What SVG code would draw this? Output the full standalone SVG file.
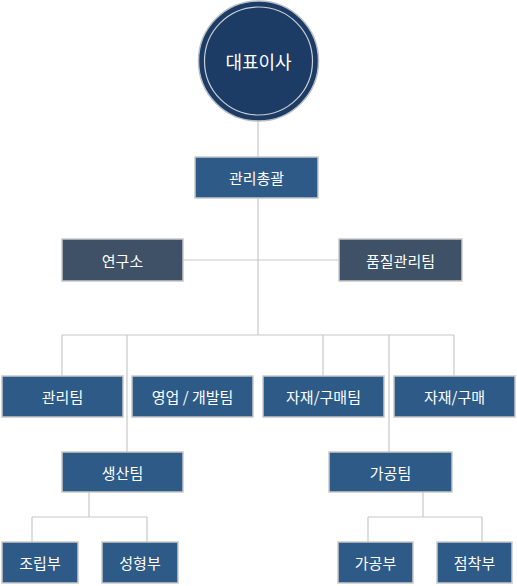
<svg xmlns="http://www.w3.org/2000/svg" width="517" height="586" viewBox="0 0 517 586">
<style>
.box{fill:#2e5a87;stroke:#c9c9c9;stroke-width:1.5}
.dark{fill:#3e5166;stroke:#c9c9c9;stroke-width:1.5}
.t{fill:#ffffff;font-family:"Noto Sans CJK KR","Noto Sans",sans-serif;font-size:15px;text-anchor:middle;dominant-baseline:central}
.c{fill:none;stroke:#c8c8c8;stroke-width:1.2}
</style>
<rect width="517" height="586" fill="#ffffff"/>
<g id="connectors" class="c">
<path d="M258 120V157M258 198V335M183 260H339M62 335H454M62 335V376M127 335V452M323 335V376M389 335V452M454 335V376"/>
<path d="M89 492V517M32 517H147M32 517V542M147 517V542"/>
<path d="M423 492V517M368 517H482M368 517V542M482 517V542"/>
</g>
<g id="ceo">
<circle cx="258.5" cy="61" r="60" fill="#1c3c65" stroke="#b9bec6" stroke-width="1.5"/>
<circle cx="258.5" cy="61" r="54" fill="none" stroke="#c9ced6" stroke-width="1.2"/>
<text class="t" x="258.5" y="61" style="font-size:18px">대표이사</text>
</g>
<g id="general"><rect class="box" x="195" y="157" width="123" height="41"/><text class="t" x="256.5" y="177.5">관리총괄</text></g>
<g id="lab"><rect class="dark" x="62" y="239" width="121" height="42"/><text class="t" x="122.5" y="260">연구소</text></g>
<g id="qa"><rect class="dark" x="339" y="239" width="123" height="42"/><text class="t" x="400.5" y="260">품질관리팀</text></g>
<g id="admin"><rect class="box" x="2" y="376" width="121" height="41"/><text class="t" x="62.5" y="396.5">관리팀</text></g>
<g id="sales"><rect class="box" x="132" y="376" width="121" height="41"/><text class="t" x="192.5" y="396.5">영업 / 개발팀</text></g>
<g id="purchase-team"><rect class="box" x="263" y="376" width="121" height="41"/><text class="t" x="323.5" y="396.5">자재/구매팀</text></g>
<g id="purchase"><rect class="box" x="394" y="376" width="121" height="41"/><text class="t" x="454.5" y="396.5">자재/구매</text></g>
<g id="production"><rect class="box" x="62" y="452" width="121" height="40"/><text class="t" x="122.5" y="472">생산팀</text></g>
<g id="processing"><rect class="box" x="329" y="452" width="123" height="40"/><text class="t" x="390.5" y="472">가공팀</text></g>
<g id="assembly"><rect class="box" x="2" y="542" width="76" height="41"/><text class="t" x="40" y="562.5">조립부</text></g>
<g id="molding"><rect class="box" x="102" y="542" width="76" height="41"/><text class="t" x="140" y="562.5">성형부</text></g>
<g id="machining"><rect class="box" x="338" y="542" width="75" height="41"/><text class="t" x="375.5" y="562.5">가공부</text></g>
<g id="adhesion"><rect class="box" x="437" y="542" width="75" height="41"/><text class="t" x="474.5" y="562.5">점착부</text></g>
</svg>
